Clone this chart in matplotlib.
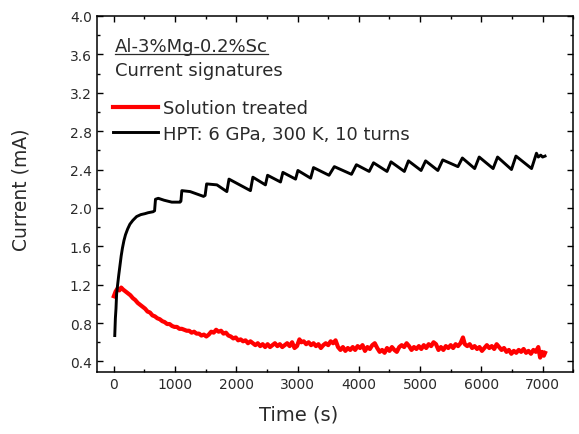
import matplotlib
matplotlib.use('Agg')
import matplotlib.pyplot as plt
from matplotlib.ticker import MultipleLocator
from matplotlib.lines import Line2D

plt.rcParams['font.family'] = ['DejaVu Sans']

# Solution treated (red)
red_t = [0, 30, 60, 90, 120, 150, 190, 230, 270, 310, 350, 390, 430, 470, 510,
         550, 590, 630, 670, 710, 750, 790, 830, 870, 910, 950, 990, 1030, 1070,
         1110, 1150, 1190, 1230, 1270, 1310, 1350, 1390, 1430, 1470, 1510, 1550,
         1590, 1630, 1670, 1710, 1750, 1790, 1830, 1870, 1910, 1950, 1990, 2030,
         2070, 2110, 2150, 2190, 2230, 2270, 2310, 2350, 2390, 2430, 2470, 2510,
         2550, 2590, 2630, 2670, 2710, 2750, 2790, 2830, 2870, 2910, 2950, 2990,
         3030, 3060, 3100, 3140, 3180, 3220, 3260, 3300, 3340, 3380, 3420, 3460,
         3500, 3540, 3580, 3620, 3660, 3700, 3740, 3780, 3820, 3860, 3900, 3940,
         3980, 4020, 4060, 4100, 4140, 4180, 4220, 4260, 4300, 4340, 4380, 4420,
         4460, 4500, 4540, 4580, 4620, 4660, 4700, 4740, 4780, 4820, 4860, 4900,
         4940, 4980, 5020, 5060, 5100, 5140, 5180, 5220, 5260, 5300, 5340, 5380,
         5420, 5460, 5500, 5540, 5580, 5620, 5660, 5700, 5730, 5770, 5810, 5850,
         5890, 5930, 5970, 6010, 6050, 6090, 6130, 6170, 6210, 6250, 6290, 6330,
         6370, 6410, 6450, 6490, 6530, 6570, 6610, 6650, 6690, 6730, 6770, 6810,
         6850, 6890, 6930, 6960, 6990, 7020, 7040]
red_v = [1.08, 1.13, 1.16, 1.14, 1.17, 1.15, 1.13, 1.11, 1.09, 1.06, 1.04, 1.01,
         0.99, 0.97, 0.95, 0.92, 0.91, 0.88, 0.87, 0.85, 0.84, 0.82, 0.81, 0.79,
         0.79, 0.77, 0.76, 0.76, 0.74, 0.74, 0.73, 0.72, 0.72, 0.70, 0.71, 0.69,
         0.69, 0.67, 0.68, 0.66, 0.68, 0.71, 0.70, 0.73, 0.71, 0.72, 0.69, 0.70,
         0.67, 0.66, 0.64, 0.65, 0.62, 0.63, 0.61, 0.62, 0.59, 0.61, 0.59, 0.57,
         0.59, 0.56, 0.58, 0.55, 0.58, 0.55, 0.57, 0.59, 0.56, 0.58, 0.55, 0.57,
         0.59, 0.56, 0.60, 0.54, 0.56, 0.63, 0.60, 0.61, 0.58, 0.60, 0.57, 0.59,
         0.56, 0.58, 0.54, 0.57, 0.59, 0.57, 0.61, 0.59, 0.62, 0.55, 0.52, 0.55,
         0.51, 0.54, 0.52, 0.55, 0.52, 0.56, 0.54, 0.57, 0.51, 0.55, 0.53, 0.57,
         0.59, 0.54, 0.50, 0.52, 0.49, 0.54, 0.51, 0.55, 0.52, 0.50, 0.55, 0.57,
         0.55, 0.59, 0.56, 0.52, 0.55, 0.53, 0.56, 0.53, 0.57, 0.54, 0.58, 0.56,
         0.60, 0.58, 0.52, 0.55, 0.52, 0.56, 0.54, 0.57, 0.54, 0.58, 0.56, 0.59,
         0.65, 0.58, 0.56, 0.58, 0.54, 0.56, 0.53, 0.55, 0.51, 0.54, 0.57, 0.54,
         0.56, 0.53, 0.58, 0.55, 0.52, 0.54, 0.50, 0.52, 0.48, 0.51, 0.49, 0.52,
         0.50, 0.53, 0.49, 0.51, 0.48, 0.52, 0.50, 0.55, 0.44, 0.50, 0.46, 0.49]

# HPT: 6 GPa, 300 K, 10 turns (black)
hpt_t = [15, 25, 35, 45, 60, 80, 100, 120, 140, 165, 190, 225, 262, 310, 372,
         440, 508, 560, 640, 665, 680, 726, 820, 946, 1080, 1095, 1110, 1246,
         1464, 1490, 1515, 1683, 1845, 1880, 2230, 2270, 2475, 2510, 2721, 2760,
         2967, 3005, 3213, 3260, 3513, 3600, 3880, 3960, 4169, 4240, 4460, 4525,
         4743, 4810, 5016, 5090, 5290, 5370, 5618, 5690, 5891, 5965, 6192, 6265,
         6492, 6565, 6820, 6900, 6930, 6970, 7000, 7040]
hpt_v = [0.67, 0.85, 0.95, 1.10, 1.19, 1.30, 1.40, 1.50, 1.58, 1.66, 1.72, 1.78,
         1.83, 1.87, 1.91, 1.93, 1.94, 1.95, 1.96, 1.97, 2.09, 2.10, 2.08, 2.06,
         2.06, 2.07, 2.18, 2.17, 2.12, 2.13, 2.25, 2.24, 2.17, 2.30, 2.18, 2.32,
         2.24, 2.34, 2.27, 2.37, 2.30, 2.39, 2.31, 2.42, 2.34, 2.43, 2.35, 2.45,
         2.38, 2.47, 2.38, 2.48, 2.38, 2.49, 2.39, 2.49, 2.39, 2.50, 2.43, 2.52,
         2.41, 2.53, 2.41, 2.53, 2.40, 2.54, 2.41, 2.57, 2.53, 2.55, 2.53, 2.54]

txt = '#2a2a2a'

fig = plt.figure(figsize=(5.79, 4.35), dpi=100)
ax = fig.add_axes([0.167, 0.1425, 0.823, 0.8185])

ax.plot(red_t, red_v, color='#ff0000', lw=3.0, label='Solution treated')
ax.plot(hpt_t, hpt_v, color='black', lw=2.1, label='HPT: 6 GPa, 300 K, 10 turns')

ax.set_xlim(-280, 7500)
ax.set_ylim(0.29, 4.0)
ax.xaxis.set_major_locator(MultipleLocator(1000))
ax.xaxis.set_minor_locator(MultipleLocator(500))
ax.yaxis.set_major_locator(MultipleLocator(0.4))
ax.yaxis.set_minor_locator(MultipleLocator(0.2))
ax.yaxis.set_major_formatter(plt.FormatStrFormatter('%.1f'))
ax.tick_params(which='both', direction='in', top=True, right=True,
               labelsize=10, labelcolor=txt, width=1.0)
ax.tick_params(which='major', length=4.5)
ax.tick_params(which='minor', length=2.5)
for s in ax.spines.values():
    s.set_linewidth(1.1)

ax.set_xlabel('Time (s)', fontsize=14, color=txt, va='center')
ax.set_ylabel('Current (mA)', fontsize=13.5, color=txt, va='center')
ax.xaxis.set_label_coords(0.424, -0.118)
ax.yaxis.set_label_coords(-0.158, 0.514)

title = ax.text(20, 3.69, 'Al-3%Mg-0.2%Sc', fontsize=13, color=txt, va='center')
ax.text(20, 3.44, 'Current signatures', fontsize=13, color=txt, va='center')

leg = ax.legend(loc='upper left', bbox_to_anchor=(0.008, 0.802), frameon=False,
                fontsize=13, handlelength=2.5, handletextpad=0.28,
                labelspacing=0.42, borderaxespad=0.3)
for t in leg.get_texts():
    t.set_color(txt)

# underline the alloy name
fig.canvas.draw()
bb = title.get_window_extent()
fig.add_artist(Line2D([bb.x0, bb.x1], [bb.y0 + 1, bb.y0 + 1], transform=None,
                      color=txt, lw=0.9))

fig.savefig('out.png', dpi=100)
